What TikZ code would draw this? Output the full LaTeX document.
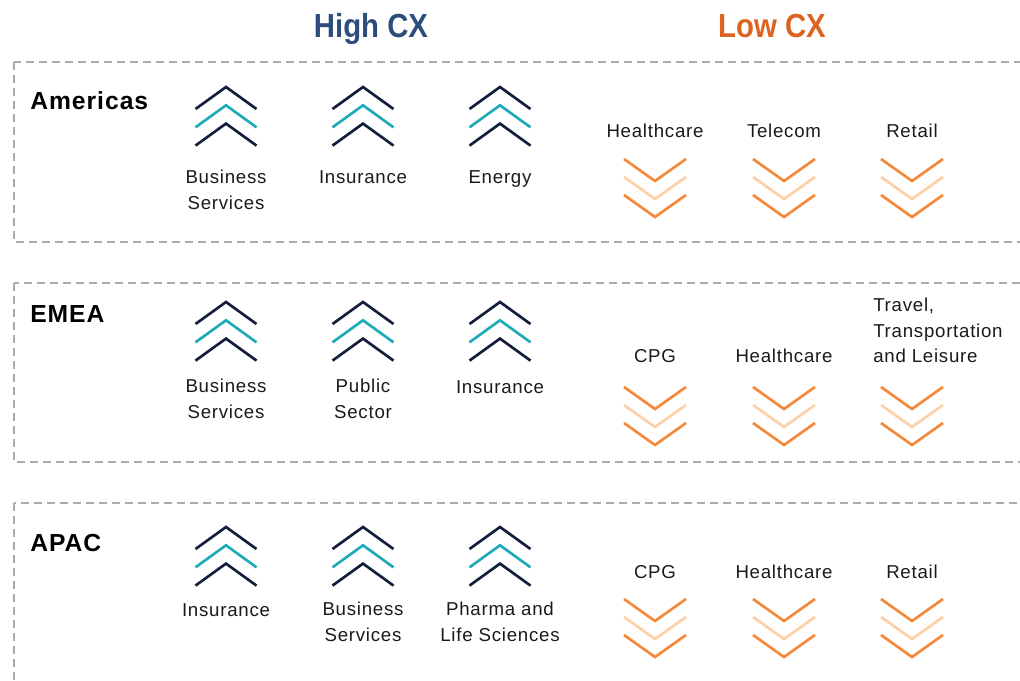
\documentclass[tikz,border=0pt]{standalone}
\usepackage{fontspec}
\setmainfont[LetterSpace=4]{Liberation Sans}
\newfontfamily\headfont[FakeStretch=0.88]{Liberation Sans}

\definecolor{highcx}{HTML}{2C4C7C}
\definecolor{lowcx}{HTML}{DC6420}
\definecolor{navymark}{HTML}{121E3C}
\definecolor{tealmark}{HTML}{1EAAB7}
\definecolor{orangemark}{HTML}{F5883B}
\definecolor{palemark}{HTML}{FDD0A6}
\definecolor{boxgray}{HTML}{ABABAB}
\definecolor{labeltext}{HTML}{1A1A1A}

\tikzset{
  heading/.style={inner sep=0pt, anchor=base, font=\headfont\bfseries\fontsize{25}{28}\selectfont},
  region/.style={inner sep=0pt, anchor=base west, text=black, font=\bfseries\fontsize{18.5}{20}\selectfont},
  item/.style={inner sep=0pt, anchor=base, align=center, text=labeltext, font=\fontsize{14}{19}\selectfont},
  regionbox/.style={draw=boxgray, line width=1.5pt, dash pattern=on 6pt off 3.75pt},
  markline/.style={line width=2pt},
  pics/upmark/.style={code={
    \draw[markline, navymark] (-30.5,22) -- (0,0) -- (30.5,22);
    \draw[markline, tealmark] (-30.5,40.3) -- (0,18.3) -- (30.5,40.3);
    \draw[markline, navymark] (-30.5,58.6) -- (0,36.6) -- (30.5,58.6);
  }},
  pics/downmark/.style={code={
    \draw[markline, orangemark] (-31,0) -- (0,22) -- (31,0);
    \draw[markline, palemark] (-31,18) -- (0,40) -- (31,18);
    \draw[markline, orangemark] (-31,36) -- (0,58) -- (31,36);
  }}
}

\begin{document}
\begin{tikzpicture}[x=0.75pt, y=-0.75pt]
  \useasboundingbox (0,0) rectangle (1020,681);
  \clip (0,0) rectangle (1020,681);

  % Headings
  \node[heading, text=highcx] (high) at (371,38) {High CX};
  \node[heading, text=lowcx] (low) at (772,38) {Low CX};

  % Region boxes
  \draw[regionbox] (14,62) rectangle (1040,242);
  \draw[regionbox] (14,283) rectangle (1040,462);
  \draw[regionbox] (14,503) rectangle (1040,700);

  % Region names
  \node[region] (americas) at (30,110) {Americas};
  \node[region] (emea) at (30,322) {EMEA};
  \node[region] (apac) at (30,551) {APAC};

  % Americas
  \pic at (226,87) {upmark};
  \pic at (363,87) {upmark};
  \pic at (500,87) {upmark};
  \pic at (655,159) {downmark};
  \pic at (784,159) {downmark};
  \pic at (912,159) {downmark};
  \node[item] (am1) at (226,209) {Business\\Services};
  \node[item] (am2) at (363,184) {Insurance};
  \node[item] (am3) at (500,184) {Energy};
  \node[item] (am4) at (655,137.5) {Healthcare};
  \node[item] (am5) at (784,137.5) {Telecom};
  \node[item] (am6) at (912,137.5) {Retail};

  % EMEA
  \pic at (226,302) {upmark};
  \pic at (363,302) {upmark};
  \pic at (500,302) {upmark};
  \pic at (655,387) {downmark};
  \pic at (784,387) {downmark};
  \pic at (912,387) {downmark};
  \node[item] (em1) at (226,418) {Business\\Services};
  \node[item] (em2) at (363,418) {Public\\Sector};
  \node[item] (em3) at (500,393.5) {Insurance};
  \node[item] (em4) at (655,362.5) {CPG};
  \node[item] (em5) at (784,362.5) {Healthcare};
  \node[item, anchor=base west, align=left] (em6) at (873,362.5) {Travel,\\Transportation\\and Leisure};

  % APAC
  \pic at (226,527) {upmark};
  \pic at (363,527) {upmark};
  \pic at (500,527) {upmark};
  \pic at (655,599) {downmark};
  \pic at (784,599) {downmark};
  \pic at (912,599) {downmark};
  \node[item] (ap1) at (226,616) {Insurance};
  \node[item] (ap2) at (363,641) {Business\\Services};
  \node[item] (ap3) at (500,641) {Pharma and\\Life Sciences};
  \node[item] (ap4) at (655,578.5) {CPG};
  \node[item] (ap5) at (784,578.5) {Healthcare};
  \node[item] (ap6) at (912,578.5) {Retail};
\end{tikzpicture}
\end{document}
